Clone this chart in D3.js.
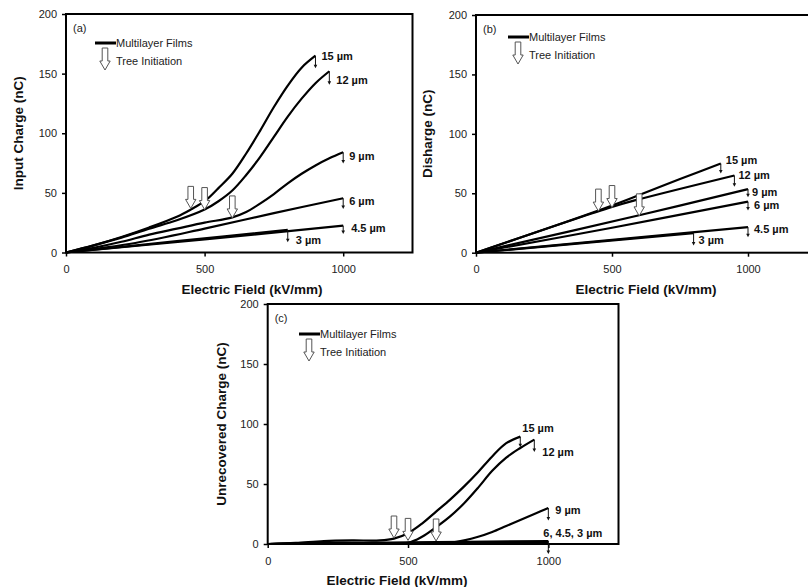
<!DOCTYPE html>
<html>
<head>
<meta charset="utf-8">
<script src="https://cdn.jsdelivr.net/npm/d3@7"></script>
<style>
  html, body { margin: 0; padding: 0; background: #fff; }
  svg { display: block; font-family: "Liberation Sans", Arial, sans-serif; }
</style>
</head>
<body>
<svg id="chart" width="808" height="587"></svg>
<script>
// ── Data ────────────────────────────────────────────────────────────────────
const thickness = ['15 µm', '12 µm', '9 µm', '6 µm', '4.5 µm', '3 µm'];
const xTicks = [0, 500, 1000];
const yTicks = [0, 50, 100, 150, 200];
const treeField = [450, 500, 600];          // tree initiation (15, 12, 9 µm)

// (a) Input charge (nC) vs field (kV/mm)
const inputCharge = [
  [[0,0],[100,6],[200,13],[300,21],[400,30],[450,36],[500,43],[550,54],[600,66],[650,83],[700,102],[750,122],[800,140],[850,155],[900,165]],
  [[0,0],[100,6],[200,12.5],[300,20],[400,27],[500,36],[550,43],[600,52],[650,65],[700,80],[750,97],[800,114],[850,129],[900,142],[950,152]],
  [[0,0],[100,4],[200,9],[300,15],[400,20],[500,25],[600,29.5],[650,34],[700,41],[750,49],[800,58],[850,66],[900,73],[950,79],[1000,84]],
  [[0,0],[250,8],[500,20],[750,33],[1000,45.5]],
  [[0,0],[500,11],[1000,22.5]],
  [[0,0],[400,9.5],[800,19]]
];
const inputDrop = [155, 141, 75, 37, 16, 9];
const inputTreeTip = [37, 36, 29];

// (b) Discharge (nC)
const discharge = [
  [[0,0],[450,35.5],[600,48.5],[750,62],[900,75]],
  [[0,0],[500,38.5],[600,45],[950,65]],
  [[0,0],[600,31.5],[1000,53.5]],
  [[0,0],[500,21],[1000,43]],
  [[0,0],[1000,21.5]],
  [[0,0],[800,16.5]]
];
const dischargeDrop = [67, 56, 47, 36, 13.5, 6.5];
const dischargeTreeTip = [35, 38, 31];

// (c) Unrecovered charge (nC)
const unrecovered = [
  [[0,0],[100,1],[200,2.5],[300,3],[400,3],[450,4.5],[500,9],[550,17],[600,27],[650,37],[700,48],[750,60],[800,73],[850,84],[900,89.5]],
  [[0,0],[200,1],[400,1],[500,1],[550,6],[600,14],[650,23],[700,34],[750,47],[800,61],[850,72],[900,80],[950,87]],
  [[0,0],[600,0.5],[650,1],[700,3],[750,6],[800,10],[850,15],[900,20],[950,25],[1000,30]],
  [[0,0],[500,1.3],[1000,2.5]],
  [[0,0],[500,0.8],[1000,1.5]],
  [[0,0],[400,0.5],[800,1]]
];
const unrecoveredDrop = [81, 77, 20, -8, null, null];
const unrecoveredTreeTip = [5, 3, 2.5];

// ── Layout ──────────────────────────────────────────────────────────────────
const svg = d3.select('#chart');
const FONT = '"Liberation Sans", Arial, sans-serif';

const panels = [
  {
    tag: '(a)', yTitle: 'Input Charge (nC)', series: inputCharge, drops: inputDrop, tips: inputTreeTip,
    x0: 66, x1: 412.5, yTop: 14, yBot: 252.5, xTitleX: 252, yTitleX: 18,
    labels: [['15 µm',6,0],['12 µm',7,8.5],['9 µm',6,3.5],['6 µm',6,2.5],['4.5 µm',8,2.5],['3 µm',8,10.5]],
    legendX: 95, legendY: 43
  },
  {
    tag: '(b)', yTitle: 'Disharge (nC)', series: discharge, drops: dischargeDrop, tips: dischargeTreeTip,
    x0: 476, x1: 816, yTop: 15, yBot: 252.7, xTitleX: 646, yTitleX: 427,
    labels: [['15 µm',5,-3],['12 µm',4,0],['9 µm',4,3],['6 µm',6,4],['4.5 µm',6,2],['3 µm',5,7]],
    legendX: 508, legendY: 37
  },
  {
    tag: '(c)', yTitle: 'Unrecovered Charge (nC)', series: unrecovered, drops: unrecoveredDrop, tips: unrecoveredTreeTip,
    x0: 267.7, x1: 618.5, yTop: 304, yBot: 544, xTitleX: 397, yTitleX: 221,
    labels: [['15 µm',2,-8.5],['12 µm',8,12.5],['9 µm',7,2.5],['6, 4.5, 3 µm',-5,-7.5],null,null],
    legendX: 299, legendY: 334
  }
];

// hollow down arrow, tip at (0,0)
function hollowArrow(g, x, y) {
  const p = [[-2.8,-22],[2.8,-22],[2.8,-9],[5.2,-9],[0,0],[-5.2,-9],[-2.8,-9]];
  g.append('path')
    .attr('d', 'M' + p.map(q => [x + q[0], y + q[1]].join(',')).join('L') + 'Z')
    .attr('fill', '#fff')
    .attr('stroke', '#555')
    .attr('stroke-width', 1);
}

// thin arrow pointing down from (x,y1) to (x,y2)
function dropArrow(g, x, y1, y2) {
  g.append('line')
    .attr('x1', x).attr('x2', x).attr('y1', y1).attr('y2', y2 - 2)
    .attr('stroke', '#111').attr('stroke-width', 1);
  g.append('path')
    .attr('d', `M${x - 1.8},${y2 - 3}L${x + 1.8},${y2 - 3}L${x},${y2 + 0.5}Z`)
    .attr('fill', '#111');
}

panels.forEach(p => {
  const g = svg.append('g');
  const x = d3.scaleLinear().domain([0, 1250]).range([p.x0, p.x1]);
  const y = d3.scaleLinear().domain([0, 200]).range([p.yBot, p.yTop]);

  // axes
  g.append('g')
    .attr('transform', `translate(0,${p.yBot})`)
    .call(d3.axisBottom(x).tickValues(xTicks).tickFormat(d3.format('d'))
      .tickSize(4).tickPadding(9).tickSizeOuter(0))
    .call(a => a.select('.domain').remove())
    .call(a => a.selectAll('line').attr('stroke', '#000').attr('stroke-width', 1.5))
    .call(a => a.selectAll('text').attr('font-size', 11).attr('font-family', FONT).attr('fill', '#222'));

  g.append('g')
    .attr('transform', `translate(${p.x0},0)`)
    .call(d3.axisLeft(y).tickValues(yTicks).tickSize(4).tickPadding(5).tickSizeOuter(0))
    .call(a => a.select('.domain').remove())
    .call(a => a.selectAll('line').attr('stroke', '#000').attr('stroke-width', 1.5))
    .call(a => a.selectAll('text').attr('font-size', 11).attr('font-family', FONT).attr('fill', '#222'));

  // frame
  g.append('rect')
    .attr('x', p.x0).attr('y', p.yTop)
    .attr('width', p.x1 - p.x0).attr('height', p.yBot - p.yTop)
    .attr('fill', 'none').attr('stroke', '#000').attr('stroke-width', 2);

  // axis titles
  g.append('text')
    .attr('x', p.xTitleX).attr('y', p.yBot + 41)
    .attr('text-anchor', 'middle')
    .attr('font-size', 13.5).attr('font-weight', 700).attr('fill', '#111')
    .text('Electric Field (kV/mm)');

  g.append('text')
    .attr('transform', `translate(${p.yTitleX},${(p.yTop + p.yBot) / 2}) rotate(-90)`)
    .attr('text-anchor', 'middle').attr('dy', '0.35em')
    .attr('font-size', 13.5).attr('font-weight', 700).attr('fill', '#111')
    .text(p.yTitle);

  // panel tag
  g.append('text')
    .attr('x', p.x0 + 7).attr('y', p.yTop + 18)
    .attr('font-size', 11).attr('fill', '#222')
    .text(p.tag);

  // curves
  const line = d3.line()
    .x(d => x(d[0])).y(d => y(d[1]))
    .curve(d3.curveCatmullRom.alpha(0.5));

  g.selectAll('path.curve')
    .data(p.series)
    .join('path')
    .attr('class', 'curve')
    .attr('d', line)
    .attr('fill', 'none')
    .attr('stroke', '#000')
    .attr('stroke-width', 2.2)
    .attr('stroke-linejoin', 'round');

  // breakdown drop arrows + labels
  p.series.forEach((s, i) => {
    const end = s[s.length - 1];
    const ex = x(end[0]), ey = y(end[1]);
    if (p.drops[i] != null) dropArrow(g, ex, ey, y(p.drops[i]));
    const lab = p.labels[i];
    if (lab) {
      g.append('text')
        .attr('x', ex + lab[1]).attr('y', ey + lab[2])
        .attr('dy', '0.35em')
        .attr('font-size', 11).attr('font-weight', 700).attr('fill', '#111')
        .text(lab[0]);
    }
  });

  // tree initiation markers
  treeField.forEach((f, i) => hollowArrow(g, x(f), y(p.tips[i])));

  // legend
  g.append('line')
    .attr('x1', p.legendX).attr('x2', p.legendX + 21)
    .attr('y1', p.legendY).attr('y2', p.legendY)
    .attr('stroke', '#000').attr('stroke-width', 3);
  g.append('text')
    .attr('x', p.legendX + 21).attr('y', p.legendY).attr('dy', '0.35em')
    .attr('font-size', 11).attr('fill', '#222')
    .text('Multilayer Films');
  hollowArrow(g, p.legendX + 10, p.legendY + 27);
  g.append('text')
    .attr('x', p.legendX + 21).attr('y', p.legendY + 18).attr('dy', '0.35em')
    .attr('font-size', 11).attr('fill', '#222')
    .text('Tree Initiation');
});
</script>
</body>
</html>
